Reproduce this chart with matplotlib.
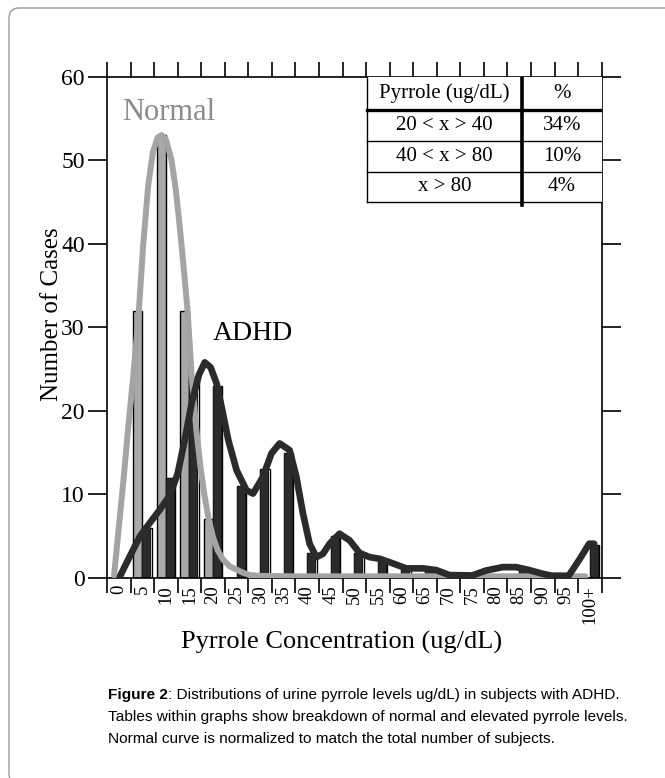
import matplotlib
matplotlib.use("Agg")
import matplotlib.pyplot as plt
from matplotlib.patches import FancyBboxPatch, Rectangle
from matplotlib.lines import Line2D

plt.rcParams['font.family'] = ['Liberation Serif', 'DejaVu Serif']

# bins of pyrrole concentration (ug/dL)
bin_labels = ["0", "5", "10", "15", "20", "25", "30", "35", "40", "45", "50",
              "55", "60", "65", "70", "75", "80", "85", "90", "95", "100+"]
normal_counts = [0, 32, 53, 32, 7, 0, 0, 0, 0, 0, 0,
                 0, 0, 0, 0, 0, 0, 0, 0, 0, 0]
adhd_counts = [0, 6, 12, 24, 23, 11, 13, 15, 3, 5, 3,
               2, 1, 1, 0, 0, 0, 1, 0, 0, 4]

# fitted curves (x in bin units)
normal_curve_x = [0.30, 0.50, 0.71, 0.90, 1.11, 1.33, 1.54, 1.75, 1.95, 2.15, 2.32,
                  2.50, 2.74, 2.92, 3.09, 3.26, 3.42, 3.60, 3.80, 3.98, 4.15, 4.32,
                  4.50, 4.70, 4.93, 5.20, 5.50, 5.80, 6.06, 6.50, 8.0, 12.0, 16.0, 20.3]
normal_curve_y = [0.3, 6, 12, 18, 24, 31, 40, 47, 51, 52.7, 53,
                  52.5, 50, 46.5, 42, 37, 32, 24, 17.5, 13, 9.7, 7,
                  4.9, 3.3, 2.2, 1.4, 1.0, 0.6, 0.35, 0.25, 0.2, 0.2, 0.2, 0.2]

adhd_curve_x = [0.55, 0.97, 1.40, 1.82, 2.25, 2.67, 3.00, 3.30, 3.60, 3.90, 4.15,
                4.40, 4.65, 4.90, 5.15, 5.50, 5.92, 6.20, 6.62, 6.98, 7.33, 7.75,
                8.04, 8.32, 8.60, 8.89, 9.17, 9.45, 9.87, 10.30, 10.72, 11.14, 11.57,
                12.13, 12.70, 13.40, 13.97, 14.53, 15.50, 16.10, 16.80, 17.36, 17.92,
                18.49, 18.90, 19.60, 20.04, 20.47, 20.68]
adhd_curve_y = [0.2, 2.6, 5.0, 6.6, 8.2, 9.9, 12.5, 16.5, 21.0, 24.3, 25.8,
                25.2, 23.3, 20.0, 16.5, 12.9, 10.5, 10.1, 12.1, 14.9, 16.1, 15.3,
                12.1, 7.7, 4.1, 2.5, 2.9, 4.1, 5.3, 4.5, 3.0, 2.5, 2.3,
                1.75, 1.15, 1.15, 0.95, 0.35, 0.3, 0.9, 1.3, 1.3, 0.95,
                0.5, 0.27, 0.27, 2.15, 4.1, 4.1]

table_header = ["Pyrrole (ug/dL)", "%"]
table_ranges = ["20 < x > 40", "40 < x > 80", "x > 80"]
table_pcts = ["34%", "10%", "4%"]

fig = plt.figure(figsize=(6.65, 7.78), dpi=100)
ax = fig.add_axes([0.1609, 0.2571, 0.7439, 0.6444])

n = len(bin_labels)
pos = list(range(n))

# normal bars on the left half of each bin, ADHD on the right half
ax.bar([p + 0.11 for p in pos], normal_counts, width=0.39, align='edge',
       color='#a9a9a9', edgecolor='black', linewidth=1.0, zorder=2)
ax.bar([p + 0.5 for p in pos], adhd_counts, width=0.40, align='edge',
       color='white', edgecolor='black', linewidth=1.0, zorder=2)
ax.bar([p + 0.5 for p in pos], adhd_counts, width=0.34, align='edge',
       color='#2b2b2b', edgecolor='#1a1a1a', linewidth=0.8, zorder=2)

ax.plot(normal_curve_x, normal_curve_y, color='#a4a4a4', lw=4.3,
        solid_joinstyle='round', solid_capstyle='round', zorder=3)
ax.plot(adhd_curve_x, adhd_curve_y, color='#2b2b2b', lw=4.8,
        solid_joinstyle='round', solid_capstyle='round', zorder=4)

ax.set_xlim(0, n)
ax.set_ylim(0, 60)

ax.set_xticks(pos + [n])
ax.set_xticklabels([])
ax.set_xticks([p + 0.5 for p in pos], minor=True)
ax.set_xticklabels(bin_labels, minor=True, rotation=90, fontsize=13.5)
ax.tick_params(axis='x', which='major', direction='out', length=11, width=1.2,
               top=True, bottom=True)
ax.tick_params(axis='x', which='minor', length=0, pad=5)

ax.set_yticks(range(0, 61, 10))
ax.tick_params(axis='y', direction='out', length=14, width=1.2, left=True,
               right=True, labelsize=17, pad=2)
for s in ax.spines.values():
    s.set_linewidth(1.2)

ax.set_xlabel("Pyrrole Concentration (ug/dL)", fontsize=19)
ax.xaxis.set_label_coords(0.475, -0.105)
ax.set_ylabel("Number of Cases", fontsize=18, va='center', ha='center')
ax.yaxis.set_label_coords(-0.112, 0.527)

ax.text(0.030, 0.9136, "Normal", transform=ax.transAxes, fontsize=22,
        color='#8c8c8c', ha='left', va='baseline')
ax.text(0.2147, 0.4748, "ADHD", transform=ax.transAxes, fontsize=20,
        color='black', ha='left', va='baseline')

# table in the upper right corner
tl, tm, tr = 0.526, 0.839, 1.0
ty = [1.0, 0.9336, 0.8723, 0.8105, 0.7507]
ax.add_patch(Rectangle((tl, ty[-1]), tr - tl, 1 - ty[-1], transform=ax.transAxes,
                       facecolor='white', edgecolor='none', zorder=5))
for i, yv in enumerate(ty[1:], start=1):
    lw = 2.4 if i == 1 else 1.0
    ax.add_line(Line2D([tl, tr], [yv, yv], transform=ax.transAxes, color='black',
                       lw=lw, zorder=6))
ax.add_line(Line2D([tl, tl], [ty[-1], 1.0], transform=ax.transAxes, color='black',
                   lw=1.0, zorder=6))
ax.add_line(Line2D([tm, tm], [ty[-1] - 0.007, 1.0], transform=ax.transAxes,
                   color='black', lw=2.6, zorder=6))

cx_left = (tl + tm) / 2
cx_right = (tm + tr) / 2
rows = [table_header] + [[r, p] for r, p in zip(table_ranges, table_pcts)]
for i, (a, b) in enumerate(rows):
    cy = (ty[i] + ty[i + 1]) / 2
    ax.text(cx_left, cy, a, transform=ax.transAxes, ha='center', va='center',
            fontsize=15, zorder=7)
    ax.text(cx_right, cy, b, transform=ax.transAxes, ha='center', va='center',
            fontsize=15, zorder=7)

# page frame with rounded corner
frame = FancyBboxPatch((0.09, -0.06), 7.0, 7.76, boxstyle="round,pad=0,rounding_size=0.1",
                       transform=fig.dpi_scale_trans, facecolor='none',
                       edgecolor='#9a9a9a', lw=1.0, clip_on=False)
fig.add_artist(frame)

# caption
cap_font = ['Liberation Sans', 'DejaVu Sans']
cap_size = 11.1
cap_x = 108 / 665
line_y = [1 - 699 / 778, 1 - 721 / 778, 1 - 743 / 778]
t_bold = fig.text(cap_x, line_y[0], "Figure 2", family=cap_font, fontsize=cap_size,
                  weight='bold', va='baseline')
fig.canvas.draw()
bb = t_bold.get_window_extent(fig.canvas.get_renderer())
fig.text(bb.x1 / fig.bbox.width, line_y[0],
         ": Distributions of urine pyrrole levels ug/dL) in subjects with ADHD.",
         family=cap_font, fontsize=cap_size, va='baseline')
fig.text(cap_x, line_y[1],
         "Tables within graphs show breakdown of normal and elevated pyrrole levels.",
         family=cap_font, fontsize=cap_size, va='baseline')
fig.text(cap_x, line_y[2],
         "Normal curve is normalized to match the total number of subjects.",
         family=cap_font, fontsize=cap_size, va='baseline')

fig.savefig("out.png", dpi=100)
